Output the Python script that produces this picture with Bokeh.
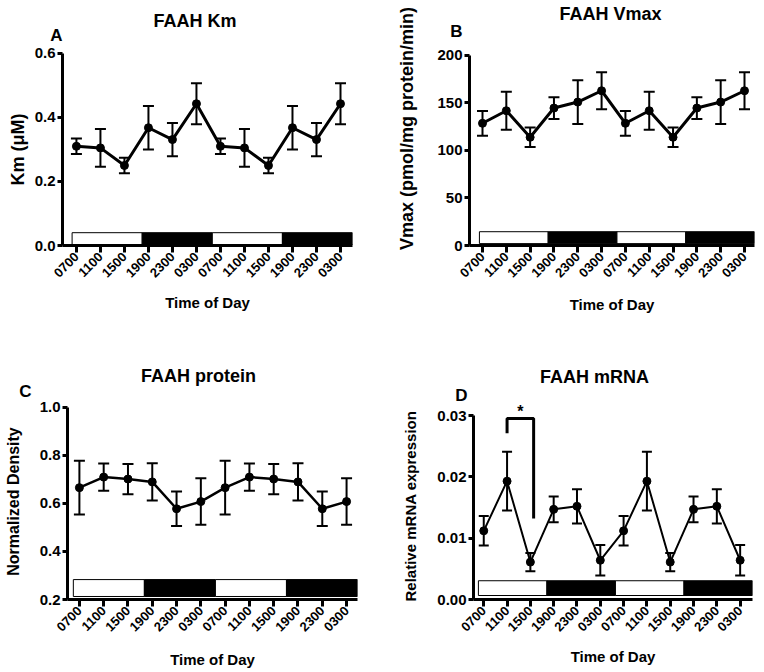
import math
from bokeh.plotting import figure
from bokeh.layouts import column, row
from bokeh.models import (ColumnDataSource, Whisker, TeeHead, FixedTicker,
                          NumeralTickFormatter, Label, Range1d, LinearAxis)
from bokeh.embed import file_html
from bokeh.resources import INLINE

# ---------------- data (double-plotted 24 h cycle) ----------------
time_labels = ["0700", "1100", "1500", "1900", "2300", "0300",
               "0700", "1100", "1500", "1900", "2300", "0300"]
lighting = ["light", "dark", "light", "dark"]

km_mean = [0.310, 0.305, 0.250, 0.368, 0.331, 0.443,
           0.310, 0.305, 0.250, 0.368, 0.331, 0.443]
km_sem = [0.024, 0.059, 0.024, 0.068, 0.052, 0.064,
          0.024, 0.059, 0.024, 0.068, 0.052, 0.064]

vmax_mean = [128.5, 141.7, 113.8, 144.5, 150.8, 162.7,
             128.5, 141.7, 113.8, 144.5, 150.8, 162.7]
vmax_sem = [13.0, 20.0, 10.3, 11.5, 23.0, 19.5,
            13.0, 20.0, 10.3, 11.5, 23.0, 19.5]

prot_mean = [0.666, 0.710, 0.702, 0.690, 0.578, 0.608,
             0.666, 0.710, 0.702, 0.690, 0.578, 0.608]
prot_sem = [0.112, 0.057, 0.063, 0.078, 0.072, 0.097,
            0.112, 0.057, 0.063, 0.078, 0.072, 0.097]

mrna_mean = [0.0112, 0.0193, 0.0061, 0.0147, 0.0152, 0.0064,
             0.0112, 0.0193, 0.0061, 0.0147, 0.0152, 0.0064]
mrna_sem = [0.0024, 0.0048, 0.0015, 0.0021, 0.0028, 0.0025,
            0.0024, 0.0048, 0.0015, 0.0021, 0.0028, 0.0025]

# significance bracket (1100 vs 1500), first cycle
sig_x = [1, 1, 2.14, 2.14]
sig_y = [0.0271, 0.0295, 0.0295, 0.0132]

FONT = "Liberation Sans"


def px2x(c, px):
    fl = c["x0"] + c["bl"]
    fr = c["x0"] + c["w"] - c["br"]
    return c["xr"][0] + (px - fl) * (c["xr"][1] - c["xr"][0]) / (fr - fl)


def py2y(c, py):
    ft = c["y0"]
    fb = c["y0"] + c["h"] - c["bb"]
    return c["yr"][0] + (fb - py) * (c["yr"][1] - c["yr"][0]) / (fb - ft)


def side_text(p, y, text, size, standoff, orient):
    """Single tick label on an extra, invisible left axis (stacked outside the main one)."""
    ax = LinearAxis(ticker=FixedTicker(ticks=[y]),
                    major_label_overrides={y: text},
                    major_label_orientation=orient,
                    axis_line_color=None, major_tick_line_color=None,
                    minor_tick_line_color=None, major_tick_out=0, major_tick_in=0,
                    major_label_standoff=standoff,
                    major_label_text_font=FONT, major_label_text_font_style="bold",
                    major_label_text_font_size=size, major_label_text_color="black")
    p.add_layout(ax, "left")


def make_panel(mean, sem, c):
    n = len(mean)
    xs = list(range(n))
    src = ColumnDataSource(dict(
        x=xs, y=mean,
        upper=[m + s for m, s in zip(mean, sem)],
        lower=[m - s for m, s in zip(mean, sem)],
    ))
    p = figure(width=c["w"], height=c["h"], output_backend="svg",
               toolbar_location=None,
               x_range=Range1d(*c["xr"]), y_range=Range1d(*c["yr"]),
               min_border_left=c["bl"], min_border_right=c["br"],
               min_border_top=0, min_border_bottom=c["bb"])
    p.outline_line_color = None
    p.xgrid.visible = False
    p.ygrid.visible = False
    p.background_fill_color = "white"
    p.border_fill_color = "white"

    # light/dark bar
    x0 = c["bar_start"]
    x1 = c["xr"][1]
    seg = (x1 - x0) / len(lighting)
    lefts = [x0 + i * seg for i in range(len(lighting))]
    rights = [l + seg for l in lefts]
    fills = ["white" if ph == "light" else "black" for ph in lighting]
    p.quad(left=lefts, right=rights, bottom=c["bar_bot"], top=c["bar_top"],
           fill_color=fills, line_color="black", line_width=1)

    # error bars, line, markers
    w = Whisker(source=src, base="x", upper="upper", lower="lower",
                line_width=2, line_color="black",
                upper_head=TeeHead(size=c["cap"], line_width=2, line_color="black"),
                lower_head=TeeHead(size=c["cap"], line_width=2, line_color="black"))
    p.add_layout(w)
    p.line("x", "y", source=src, line_width=c["lw"], line_color="black")
    p.scatter("x", "y", source=src, size=8, fill_color="black", line_color="black")

    # x axis
    xa = p.xaxis[0]
    xa.ticker = FixedTicker(ticks=xs)
    xa.major_label_overrides = {i: lab for i, lab in enumerate(time_labels)}
    xa.major_label_orientation = math.pi / 4
    xa.minor_tick_line_color = None
    xa.major_tick_out = 7
    xa.major_tick_in = 0
    xa.major_tick_line_width = 3
    xa.axis_line_width = 3
    xa.major_label_text_font = FONT
    xa.major_label_text_font_style = "bold"
    xa.major_label_text_font_size = "13px"
    xa.major_label_text_color = "black"
    xa.major_label_standoff = 2
    xa.axis_label = "Time of Day"
    xa.axis_label_text_font = FONT
    xa.axis_label_text_font_style = "bold"
    xa.axis_label_text_font_size = "15px"
    xa.axis_label_text_color = "black"
    xa.axis_label_standoff = c["xls"]

    # y axis (ticks and tick labels)
    ya = p.yaxis[0]
    ya.ticker = FixedTicker(ticks=c["yticks"])
    ya.formatter = NumeralTickFormatter(format=c["yfmt"])
    ya.bounds = (c["yticks"][0], c["yticks"][-1])
    ya.minor_tick_line_color = None
    ya.major_tick_out = 5
    ya.major_tick_in = 0
    ya.major_tick_line_width = 3
    ya.axis_line_width = 3
    ya.major_label_text_font = FONT
    ya.major_label_text_font_style = "bold"
    ya.major_label_text_font_size = "15px"
    ya.major_label_text_color = "black"
    ya.major_label_standoff = 2

    # y-axis title (vertical) and panel letter, as outer stacked axes
    side_text(p, py2y(c, c["ylabel_cy"]), c["ylabel"], c["ylsize"], c["s_ylab"], "vertical")
    side_text(p, py2y(c, c["letter_cy"]), c["letter"], "17px", c["s_letter"], "horizontal")

    # panel title (inside the frame)
    tx, ty = c["title_px"]
    p.add_layout(Label(x=px2x(c, tx), y=py2y(c, ty), text=c["title"],
                       text_font=FONT, text_font_style="bold", text_font_size="18px",
                       text_align="center", text_baseline="middle", text_color="black"))
    return p


cfgA = dict(x0=0, y0=0, w=382, h=330, bl=62, br=30, bb=85,
            xr=(-0.58, 11.5), yr=(0, 0.7656),
            bar_start=-0.18, bar_bot=0.003, bar_top=0.04, cap=11, lw=3,
            yticks=[0, 0.2, 0.4, 0.6], yfmt="0.0", xls=10,
            ylabel="Km (\u03bcM)", ylsize="18px", ylabel_cy=149, s_ylab=4,
            title="FAAH Km", title_px=(194.5, 20.5),
            letter="A", letter_cy=35, s_letter=-58)
cfgB = dict(x0=382, y0=0, w=382, h=330, bl=87, br=10, bb=84,
            xr=(-0.546, 11.42), yr=(0, 257.6),
            bar_start=-0.13, bar_bot=2, bar_top=14.5, cap=11, lw=3,
            yticks=[0, 50, 100, 150, 200], yfmt="0", xls=12,
            ylabel="Vmax (pmol/mg protein/min)", ylsize="18px", ylabel_cy=128.5, s_ylab=17,
            title="FAAH Vmax", title_px=(610, 13.5),
            letter="B", letter_cy=31, s_letter=-68)
cfgC = dict(x0=0, y0=330, w=382, h=342, bl=67, br=25, bb=73,
            xr=(-0.49, 11.45), yr=(0.2, 1.3208),
            bar_start=-0.25, bar_bot=0.2125, bar_top=0.283, cap=11, lw=2.5,
            yticks=[0.2, 0.4, 0.6, 0.8, 1.0], yfmt="0.0", xls=13,
            ylabel="Normalized Density", ylsize="16px", ylabel_cy=501, s_ylab=15,
            title="FAAH protein", title_px=(198, 375),
            letter="C", letter_cy=391, s_letter=-30)
cfgD = dict(x0=382, y0=330, w=382, h=342, bl=91, br=12, bb=70,
            xr=(-0.44, 11.53), yr=(0, 0.04387),
            bar_start=-0.23, bar_bot=0.00065, bar_top=0.00306, cap=10, lw=2,
            yticks=[0, 0.01, 0.02, 0.03], yfmt="0.00", xls=10,
            ylabel="Relative mRNA expression", ylsize="15px", ylabel_cy=507.5, s_ylab=15,
            title="FAAH mRNA", title_px=(594, 377.5),
            letter="D", letter_cy=396, s_letter=-68)

pA = make_panel(km_mean, km_sem, cfgA)
pB = make_panel(vmax_mean, vmax_sem, cfgB)
pC = make_panel(prot_mean, prot_sem, cfgC)
pD = make_panel(mrna_mean, mrna_sem, cfgD)

# significance bracket and asterisk in D
pD.line(sig_x, sig_y, line_width=3, line_color="black")
pD.add_layout(Label(x=(sig_x[0] + sig_x[-1]) / 2, y=0.0306, text="*",
                    text_font=FONT, text_font_style="bold", text_font_size="16px",
                    text_align="center", text_baseline="middle", text_color="black"))

layout = column(row(pA, pB), row(pC, pD))
open("out.html", "w").write(file_html(layout, INLINE))
